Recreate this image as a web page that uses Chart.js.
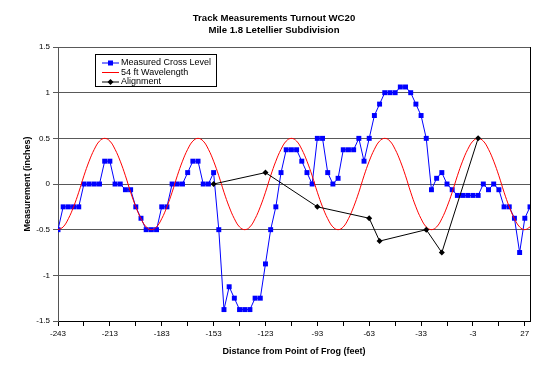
<!DOCTYPE html>
<html>
<head>
<meta charset="utf-8">
<script src="https://cdn.jsdelivr.net/npm/chart.js@4.4.1/dist/chart.umd.min.js"></script>
<style>
  html, body { margin: 0; padding: 0; background: #fff; }
  #wrap { width: 550px; height: 376px; }
</style>
</head>
<body>
<div id="wrap"><canvas id="c" width="550" height="376"></canvas></div>
<script>
const titleLines = ['Track Measurements Turnout WC20', 'Mile 1.8 Letellier Subdivision'];
const xAxisTitle = 'Distance from Point of Frog (feet)';
const yAxisTitle = 'Measurement (inches)';

// Distance (feet) of each measurement
const distances = [-243,-240,-237,-234,-231,-228,-225,-222,-219,-216,-213,-210,-207,-204,-201,-198,-195,-192,-189,-186,
  -183,-180,-177,-174,-171,-168,-165,-162,-159,-156,-153,-150,-147,-144,-141,-138,-135,-132,-129,-126,
  -123,-120,-117,-114,-111,-108,-105,-102,-99,-96,-93,-90,-87,-84,-81,-78,-75,-72,-69,-66,
  -63,-60,-57,-54,-51,-48,-45,-42,-39,-36,-33,-30,-27,-24,-21,-18,-15,-12,-9,-6,
  -3,0,3,6,9,12,15,18,21,24,27,30];

// Measured Cross Level (inches)
const crossLevel = [-0.5,-0.25,-0.25,-0.25,-0.25,0,0,0,0,0.25,0.25,0,0,-0.0625,-0.0625,-0.25,-0.375,-0.5,-0.5,-0.5,
  -0.25,-0.25,0,0,0,0.125,0.25,0.25,0,0,0.125,-0.5,-1.375,-1.125,-1.25,-1.375,-1.375,-1.375,-1.25,-1.25,
  -0.875,-0.5,-0.25,0.125,0.375,0.375,0.375,0.25,0.125,0,0.5,0.5,0.125,0,0.0625,0.375,0.375,0.375,0.5,0.25,
  0.5,0.75,0.875,1,1,1,1.0625,1.0625,1,0.875,0.75,0.5,-0.0625,0.0625,0.125,0,-0.0625,-0.125,-0.125,-0.125,
  -0.125,-0.125,0,-0.0625,0,-0.0625,-0.25,-0.25,-0.375,-0.75,-0.375,-0.25];

// 54 ft Wavelength reference curve (inches)
const wave54 = [-0.5,-0.47,-0.38,-0.25,-0.09,0.09,0.25,0.38,0.47,0.5,0.47,0.38,0.25,0.09,-0.09,-0.25,-0.38,-0.47,
  -0.5,-0.47,-0.38,-0.25,-0.09,0.09,0.25,0.38,0.47,0.5,0.47,0.38,0.25,0.09,-0.09,-0.25,-0.38,-0.47,
  -0.5,-0.47,-0.38,-0.25,-0.09,0.09,0.25,0.38,0.47,0.5,0.47,0.38,0.25,0.09,-0.09,-0.25,-0.38,-0.47,
  -0.5,-0.47,-0.38,-0.25,-0.09,0.09,0.25,0.38,0.47,0.5,0.47,0.38,0.25,0.09,-0.09,-0.25,-0.38,-0.47,
  -0.5,-0.47,-0.38,-0.25,-0.09,0.09,0.25,0.38,0.47,0.5,0.47,0.38,0.25,0.09,-0.09,-0.25,-0.38,-0.47,
  -0.5,-0.47];

// Alignment points
const alignDist = [-153,-123,-93,-63,-57,-30,-21,0];
const alignVal  = [0,0.125,-0.25,-0.375,-0.625,-0.5,-0.75,0.5];

// X-axis tick marks and labels
const xTickPositions = [-243,-228,-213,-198,-183,-168,-153,-138,-123,-108,-93,-78,-63,-48,-33,-18,-3,12,27];
const xTickLabels = [-243,-213,-183,-153,-123,-93,-63,-33,-3,27];

const seriesNames = ['Measured Cross Level', '54 ft Wavelength', 'Alignment'];

const FONT = "'Liberation Sans', Arial, Helvetica, sans-serif";
Chart.defaults.font.family = FONT;
Chart.defaults.color = '#000';

const boxLegend = {
  id: 'boxLegend',
  afterDraw(chart) {
    const ctx = chart.ctx;
    const x0 = 95.5, y0 = 54.5, w = 121, h = 32;
    ctx.save();
    ctx.fillStyle = '#fff';
    ctx.fillRect(x0, y0, w, h);
    ctx.strokeStyle = '#000';
    ctx.lineWidth = 1;
    ctx.strokeRect(x0, y0, w, h);
    ctx.font = "9px " + FONT;
    ctx.textBaseline = 'middle';
    ctx.textAlign = 'left';
    const rowsY = [63, 72.5, 82];
    chart.data.datasets.forEach((ds, k) => {
      const y = rowsY[k];
      ctx.strokeStyle = ds.borderColor;
      ctx.lineWidth = 1;
      ctx.beginPath();
      ctx.moveTo(102, y);
      ctx.lineTo(119, y);
      ctx.stroke();
      ctx.fillStyle = ds.pointBackgroundColor || ds.borderColor;
      if (ds.pointStyle === 'rect' && ds.pointRadius > 0) {
        ctx.fillRect(110.5 - 2.5, y - 2.5, 5, 5);
      } else if (ds.pointStyle === 'rectRot' && ds.pointRadius > 0) {
        ctx.beginPath();
        ctx.moveTo(110.5, y - 3);
        ctx.lineTo(113.5, y);
        ctx.lineTo(110.5, y + 3);
        ctx.lineTo(107.5, y);
        ctx.closePath();
        ctx.fill();
      }
      ctx.fillStyle = '#000';
      ctx.fillText(ds.label, 121, y);
    });
    ctx.restore();
  }
};

const rightBorder = {
  id: 'rightBorder',
  afterDraw(chart) {
    const a = chart.chartArea;
    const ctx = chart.ctx;
    ctx.save();
    ctx.strokeStyle = '#000';
    ctx.lineWidth = 1;
    ctx.beginPath();
    ctx.moveTo(Math.round(a.right) + 0.5, a.top);
    ctx.lineTo(Math.round(a.right) + 0.5, a.bottom);
    ctx.stroke();
    ctx.restore();
  }
};

new Chart(document.getElementById('c'), {
  type: 'line',
  data: {
    datasets: [
      {
        label: seriesNames[0],
        data: distances.map((d, i) => ({ x: d, y: crossLevel[i] })),
        borderColor: '#0000ff',
        backgroundColor: '#0000ff',
        pointBackgroundColor: '#0000ff',
        borderWidth: 1,
        pointStyle: 'rect',
        pointRadius: 3.5,
        pointBorderWidth: 0,
        tension: 0,
        order: 3
      },
      {
        label: seriesNames[1],
        data: distances.map((d, i) => ({ x: d, y: wave54[i] })),
        borderColor: '#ff0000',
        backgroundColor: '#ff0000',
        borderWidth: 1,
        pointRadius: 0,
        tension: 0.4,
        order: 2
      },
      {
        label: seriesNames[2],
        data: alignDist.map((d, i) => ({ x: d, y: alignVal[i] })),
        borderColor: '#000000',
        backgroundColor: '#000000',
        pointBackgroundColor: '#000000',
        borderWidth: 1,
        pointStyle: 'rectRot',
        pointRadius: 3,
        pointBorderWidth: 0,
        tension: 0,
        order: 1
      }
    ]
  },
  options: {
    responsive: false,
    animation: false,
    devicePixelRatio: 1,
    layout: { padding: { left: 18, right: 20, top: 0, bottom: 15 } },
    plugins: {
      legend: { display: false },
      tooltip: { enabled: false },
      title: {
        display: true,
        text: titleLines,
        font: { size: 9.6, weight: 'bold', lineHeight: 1.22 },
        color: '#000',
        padding: { top: 12.5, bottom: 11.1 }
      }
    },
    scales: {
      x: {
        type: 'linear',
        min: -243,
        max: 30,
        afterFit(scale) { scale.height = 40; },
        afterBuildTicks(scale) { scale.ticks = xTickPositions.map(v => ({ value: v })); },
        ticks: {
          autoSkip: false,
          maxRotation: 0,
          padding: 3,
          font: { size: 8 },
          color: '#000',
          callback: (v) => xTickLabels.includes(v) ? String(v) : ''
        },
        grid: { drawOnChartArea: false, drawTicks: true, tickLength: 5, tickColor: '#000' },
        border: { display: true, color: '#000', width: 1 },
        title: {
          display: true,
          text: xAxisTitle,
          font: { size: 9, weight: 'bold' },
          color: '#000',
          padding: { top: 0, bottom: 4 }
        }
      },
      y: {
        type: 'linear',
        min: -1.5,
        max: 1.5,
        afterFit(scale) { scale.width = 40; },
        ticks: {
          stepSize: 0.5,
          padding: 3,
          font: { size: 8 },
          color: '#000',
          callback: (v) => String(v)
        },
        grid: { color: '#595959', lineWidth: 1, drawTicks: true, tickLength: 5, tickColor: '#595959' },
        border: { display: true, color: '#555', width: 1 },
        title: {
          display: true,
          text: yAxisTitle,
          font: { size: 9, weight: 'bold' },
          color: '#000',
          padding: { top: 4, bottom: 0 }
        }
      }
    }
  },
  plugins: [boxLegend, rightBorder]
});
</script>
</body>
</html>
